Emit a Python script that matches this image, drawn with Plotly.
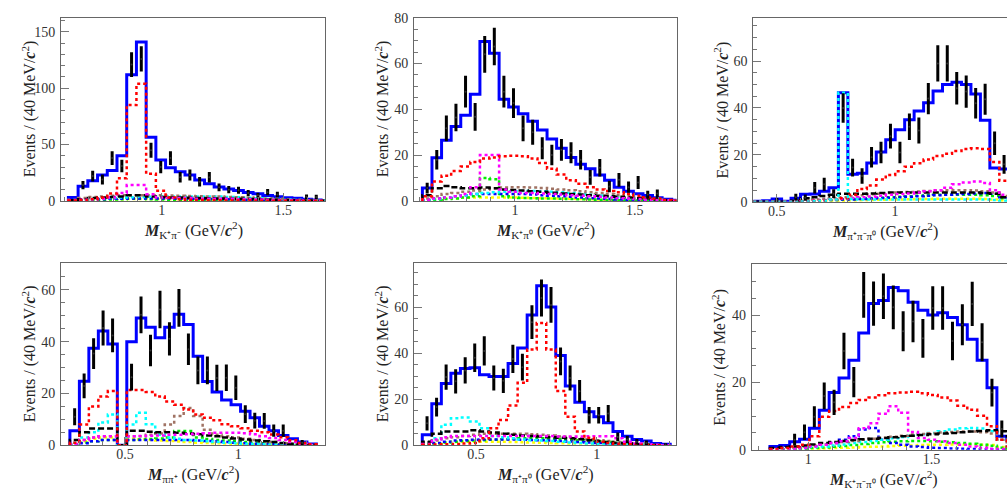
import numpy as np
import plotly.graph_objects as go

W, H = 1007, 492

# ---------------- Panel 1 : M(K+ pi-) ----------------
P1_START, P1_WIDTH = 0.616, 0.040
P1_DATA = [0, 14, 22, 19, 38, 31, 121, 126, 45, 30, 38, 21, 23, 17, 21, 12, 10, 9.5, 7, 5, 7.7, 5.7, 0, 0, 3.7, 3.5, 0.5]
P1_TOTAL = [3, 13, 17.8, 23, 27, 40, 112, 141, 56.5, 36.4, 29.5, 25.8, 23, 18.6, 15.2, 12.3, 10.6, 9.2, 7.5, 6.3, 4.9, 3.7, 2.9, 2.3, 1.5, 0.8, 0.4]
P1_RED = [0.3, 0.8, 1.5, 3, 6.5, 20, 85, 104, 24, 9, 3, 1.5, 1, 0.8, 0.6, 0.5, 0.4, 0.3, 0.3, 0.2, 0.2, 0.1, 0.1, 0.1, 0, 0, 0]
P1_MAGENTA = [0.5, 1, 1.5, 2, 3, 7, 14, 14, 6, 3, 2.5, 2.5, 2.5, 2, 2, 2, 1.8, 1.5, 1.5, 1.2, 1, 0.8, 0.6, 0.4, 0.3, 0.2, 0.1]
P1_BROWN = [1, 2.5, 3.5, 4, 4.5, 5, 5, 5, 5, 5, 4.8, 4.6, 4.4, 4.2, 4, 3.8, 3.5, 3.2, 3, 2.6, 2.2, 1.8, 1.4, 1, 0.7, 0.4, 0.2]
P1_CYAN = [0.5, 1, 1.5, 2, 2.5, 3, 3.2, 3.4, 3.6, 3.8, 4, 4, 4, 4, 4, 3.8, 3.5, 3.2, 2.8, 2.4, 2, 1.6, 1.2, 0.8, 0.5, 0.3, 0.1]
P1_YELLOW = [0.3, 0.6, 1, 1.2, 1.4, 1.5, 1.6, 1.6, 1.6, 1.6, 1.5, 1.5, 1.4, 1.4, 1.3, 1.2, 1.1, 1, 0.9, 0.8, 0.6, 0.5, 0.4, 0.3, 0.2, 0.1, 0]
P1_GREEN = [0.2, 0.5, 0.8, 1, 1.2, 1.5, 2, 2, 1.5, 1.2, 1, 1, 1, 0.9, 0.8, 0.8, 0.7, 0.6, 0.5, 0.4, 0.3, 0.3, 0.2, 0.1, 0.1, 0, 0]
P1_BLACK = [0.5, 1.5, 2.5, 3, 3.5, 4, 5, 5, 4, 3.5, 3, 3, 2.8, 2.6, 2.4, 2.2, 2, 1.8, 1.6, 1.4, 1.2, 1, 0.8, 0.6, 0.4, 0.2, 0.1]
P1_BLUEDASH = [0.3, 0.8, 1.2, 1.5, 1.8, 2, 2.2, 2.2, 2.2, 2.2, 2.1, 2, 1.9, 1.8, 1.7, 1.6, 1.4, 1.2, 1, 0.8, 0.6, 0.5, 0.4, 0.3, 0.2, 0.1, 0]

# ---------------- Panel 2 : M(K+ pi0) ----------------
P2_START, P2_WIDTH = 0.614, 0.040
P2_DATA = [5.6, 18, 31.7, 36.4, 47.7, 36.7, 64, 67.4, 47.7, 42.7, 31.7, 30, 23, 20, 22.3, 21, 18, 10.3, 14.5, 6.3, 9.2, 6, 8, 2.8, 3.2, 0, 0]
P2_TOTAL = [5.6, 18.8, 26.5, 32.5, 37.4, 46.6, 69.6, 64.5, 44.4, 41, 38, 34.8, 31, 27, 23, 19, 16, 14, 11.3, 9, 6, 4.2, 3.1, 2.4, 1.4, 0.7, 0.3]
P2_RED = [2, 8.5, 11, 13, 15, 17, 18.5, 19, 19.5, 19.7, 19.5, 18.5, 16.5, 14, 11.5, 9, 7.5, 6, 5, 4.3, 3.8, 3, 2.3, 1.6, 1, 0.4, 0.1]
P2_MAGENTA = [0.5, 1, 1.5, 2, 3, 6, 20, 20, 5, 4, 3.5, 3.5, 3.2, 3, 2.8, 2.5, 2.2, 2, 1.8, 1.5, 1.2, 1, 0.8, 0.5, 0.3, 0.2, 0.1]
P2_GREEN = [0.2, 0.5, 0.8, 1, 1.5, 2, 10, 9.5, 2, 1.5, 1.3, 1.2, 1, 1, 0.9, 0.8, 0.7, 0.6, 0.5, 0.4, 0.3, 0.2, 0.2, 0.1, 0.1, 0, 0]
P2_BLACK = [2.5, 5.5, 6.5, 6, 5.5, 5.5, 5.8, 5.5, 5, 4.8, 4.5, 4.2, 4, 3.6, 3.2, 3, 2.8, 2.5, 2.2, 2, 1.8, 1.5, 1.2, 1, 0.6, 0.3, 0.1]
P2_BROWN = [1, 2, 3, 3.5, 4, 4.5, 5, 5.5, 5.8, 6, 6, 5.8, 5.6, 5.3, 5, 4.6, 4.2, 3.8, 3.4, 3, 2.5, 2, 1.5, 1, 0.6, 0.3, 0.1]
P2_CYAN = [0.3, 0.8, 1.5, 2, 2.5, 3, 3.5, 3.8, 4, 4.2, 4.3, 4.3, 4.2, 4, 3.8, 3.5, 3.2, 2.8, 2.4, 2, 1.6, 1.2, 0.9, 0.6, 0.4, 0.2, 0.1]
P2_BLUEDASH = [0.5, 1, 1.5, 2, 2.5, 3, 3, 3, 3, 3, 3, 2.8, 2.5, 2.3, 2, 1.8, 1.5, 1.2, 1, 0.8, 0.6, 0.4, 0.3, 0.2, 0.1, 0, 0]
P2_YELLOW = [0.3, 0.6, 1, 1.2, 1.4, 1.5, 1.5, 1.5, 1.5, 1.5, 1.4, 1.3, 1.2, 1.1, 1, 0.9, 0.8, 0.7, 0.6, 0.5, 0.4, 0.3, 0.2, 0.1, 0.1, 0, 0]

# ---------------- Panel 3 : M(pi+ pi- pi0) ----------------
P3_START, P3_WIDTH = 0.4006, 0.040
P3_DATA = [0, 0, 0.8, 0, 2, 1.8, 6, 7.5, 3.5, 40, 14.6, 11, 19, 21, 28, 21, 32, 30.4, 44, 59, 59, 48.4, 47, 42, 43.7, 25, 16, 0]
P3_TOTAL = [0.3, 0.5, 1.2, 0.3, 1.5, 3.2, 3.3, 4.5, 6, 46.5, 11.8, 12.2, 16.6, 21.3, 26.5, 30.7, 35, 38.7, 42.2, 47.2, 50, 51, 50, 46, 34.8, 14.4, 14, 10]
P3_RED = [0, 0, 0, 0, 0, 0.2, 0.4, 0.7, 1, 1.5, 3, 5.5, 7, 9.5, 11.5, 13, 15, 16.5, 18, 19.5, 20.5, 21.7, 22.5, 22.8, 22.5, 17, 9, 5]
P3_CYAN = [0, 0, 0, 0, 0, 0.2, 0.3, 0.5, 1, 46.5, 1.2, 1, 1, 1, 1, 1, 1, 1, 1, 1, 1, 1, 1, 1, 1, 0.8, 0.5, 0.3]
P3_MAGENTA = [0, 0, 0, 0, 0.2, 0.3, 0.5, 0.8, 1, 1.3, 1.6, 2, 2.3, 2.6, 3, 3.3, 3.6, 4, 4.5, 5, 6, 7.5, 8.3, 8.7, 8, 5, 3, 2]
P3_BROWN = [0, 0, 0, 0, 0.2, 0.5, 1, 1.3, 1.6, 2, 2.4, 2.8, 3.2, 3.5, 3.8, 4, 4.2, 4.4, 4.6, 4.8, 5, 5, 5, 4.8, 4.5, 4, 2.5, 1.5]
P3_BLACK = [0, 0, 0, 0, 0.5, 1.5, 2, 2.5, 3, 3.5, 3.5, 3.5, 3.6, 3.8, 4, 4, 4, 4, 4, 4, 4, 4, 4, 4, 3.8, 3.5, 2, 1]
P3_GREEN = [0, 0, 0, 0, 0, 0.2, 0.4, 0.6, 0.8, 1, 1.2, 1.4, 1.6, 1.8, 2, 2.2, 2.4, 2.6, 2.8, 3, 3, 3, 3, 3, 2.8, 2.5, 1.5, 1]
P3_BLUEDASH = [0, 0, 0, 0, 0, 0.2, 0.4, 0.6, 0.8, 1, 1, 1.2, 1.4, 1.6, 1.8, 2, 2.2, 2.4, 2.6, 2.8, 3, 3.2, 3.4, 3.6, 3.8, 3.5, 2, 1]
P3_YELLOW = [0, 0, 0, 0, 0, 0.1, 0.2, 0.3, 0.4, 0.5, 0.6, 0.7, 0.8, 0.9, 1, 1, 1.1, 1.2, 1.2, 1.3, 1.3, 1.3, 1.3, 1.3, 1.2, 1, 0.6, 0.3]

# ---------------- Panel 4 : M(pi pi+) ----------------
P4_START, P4_WIDTH = 0.2573, 0.0418
P4_DATA = [11, 22.9, 35.4, 45.3, 42.4, 0, 26.3, 50.4, 36.6, 52.4, 41.1, 53.1, 37.1, 28.9, 28.9, 26, 26.1, 22.2, 12, 9.5, 9.4, 5.6, 5.6, 0, 1, 0]
P4_TOTAL = [5.6, 24.75, 37.5, 44.1, 39.1, 0, 40, 49.1, 45.6, 41.5, 45.6, 50.6, 46.6, 34.4, 24.6, 20.6, 17.5, 15.6, 13.1, 10.6, 7.3, 5.6, 3.75, 2.5, 1.25, 0.5]
P4_RED = [1, 8, 15, 18.8, 20.9, 0, 21.3, 21.3, 20.6, 18.8, 16.9, 15.6, 13.8, 11.9, 10.6, 9.6, 8.1, 7.3, 6.6, 5.6, 5, 4.1, 3.1, 1.9, 0.9, 0.4]
P4_CYAN = [1, 3, 5, 8.8, 11.9, 0, 8, 12.5, 8.1, 4, 3, 2.5, 2, 1.8, 1.5, 1.2, 1, 0.8, 0.6, 0.5, 0.4, 0.3, 0.2, 0.1, 0.1, 0]
P4_BROWN = [0.5, 2, 3, 3.5, 3.5, 0, 3.5, 3.5, 4, 4.5, 8, 11.3, 14.4, 11.3, 6, 4, 3.5, 3, 2.5, 2, 1.5, 1.2, 0.8, 0.5, 0.3, 0.1]
P4_BLACK = [2, 5, 6.5, 6.5, 6.5, 0, 5.6, 5.6, 5.2, 5, 5, 4.8, 4.5, 4.2, 3.8, 3.5, 3, 2.6, 2.2, 1.8, 1.5, 1.2, 0.9, 0.6, 0.3, 0.1]
P4_MAGENTA = [0.5, 2, 3, 3.5, 3.5, 0, 3.5, 3.6, 3.7, 3.8, 4, 4, 4.2, 4.4, 4.6, 4.8, 4.8, 4.8, 4.6, 4.2, 3.5, 2.8, 2, 1.2, 0.6, 0.2]
P4_GREEN = [0.3, 1, 1.5, 2, 2, 0, 2, 2.2, 2.4, 2.6, 3, 5.5, 5.5, 3, 2.4, 2, 1.8, 1.5, 1.2, 1, 0.8, 0.6, 0.4, 0.2, 0.1, 0]
P4_YELLOW = [0.3, 1.5, 2.5, 3, 3, 0, 2.5, 2.2, 2, 1.8, 1.6, 1.4, 1.2, 1, 0.9, 0.8, 0.7, 0.6, 0.5, 0.4, 0.3, 0.2, 0.1, 0.1, 0, 0]
P4_BLUEDASH = [0.2, 0.8, 1.5, 2, 2, 0, 2, 2, 2, 2, 2, 2, 2, 1.8, 1.6, 1.4, 1.2, 1, 0.8, 0.6, 0.5, 0.4, 0.3, 0.2, 0.1, 0]

# ---------------- Panel 5 : M(pi+ pi0) ----------------
P5_START, P5_WIDTH = 0.2775, 0.0395
P5_DATA = [9.5, 16.6, 29.6, 27.8, 32.5, 38, 41, 29.2, 28, 37.5, 33.9, 53.5, 64, 61, 36.4, 29.2, 23.5, 13, 13, 13.8, 3.6, 2.5, 1.5, 1, 0, 0.3]
P5_TOTAL = [4.6, 18, 26.8, 31.3, 33.4, 33.7, 30.6, 29.9, 29.9, 35.5, 42.3, 56.6, 69.3, 60.1, 39, 25.7, 18.7, 14.5, 12.4, 9.8, 6, 3.9, 2.5, 1.8, 0.8, 0.4]
P5_RED = [0.2, 0.3, 0.4, 0.5, 0.8, 1, 3, 7.4, 11, 17.3, 27.1, 41.6, 53.1, 41.6, 23.6, 12.4, 6, 3.2, 1.5, 1, 0.6, 0.4, 0.2, 0.1, 0, 0]
P5_CYAN = [0.5, 3, 8.9, 11.7, 12, 10.3, 7.4, 4, 3.5, 3, 2.5, 2.2, 2, 1.8, 1.5, 1.2, 1, 0.8, 0.6, 0.4, 0.3, 0.2, 0.1, 0, 0, 0]
P5_BLACK = [1.5, 5, 6, 6, 6, 6.5, 6, 5.5, 5, 4.5, 4.2, 4, 3.8, 3.5, 3.2, 3, 2.6, 2.2, 1.8, 1.4, 1, 0.7, 0.4, 0.2, 0.1, 0]
P5_MAGENTA = [0.5, 2.5, 3.5, 4, 4, 4, 4, 4, 4, 4, 4, 4, 4, 4, 3.8, 3.8, 3.8, 3.9, 3.9, 3.9, 3, 1.5, 0.8, 0.4, 0.2, 0]
P5_BROWN = [0.5, 2, 3, 3.5, 4, 4.5, 5, 5, 5, 5, 5, 4.8, 4.5, 4.2, 3.8, 3.4, 3, 2.6, 2.2, 1.8, 1.4, 1, 0.6, 0.3, 0.1, 0]
P5_GREEN = [0.2, 0.8, 1.2, 1.5, 1.8, 2, 2.2, 2.4, 2.6, 2.8, 3, 3, 3, 2.8, 2.6, 2.4, 2.2, 2, 1.7, 1.4, 1, 0.7, 0.4, 0.2, 0.1, 0]
P5_YELLOW = [0.2, 0.8, 1.2, 1.4, 1.5, 1.5, 1.5, 1.5, 1.5, 1.4, 1.3, 1.2, 1.1, 1, 0.9, 0.8, 0.7, 0.6, 0.5, 0.4, 0.3, 0.2, 0.1, 0, 0, 0]
P5_BLUEDASH = [0.3, 1, 1.5, 2, 2.2, 2.4, 2.5, 2.5, 2.5, 2.5, 2.4, 2.3, 2.2, 2, 1.8, 1.6, 1.4, 1.2, 1, 0.8, 0.6, 0.4, 0.2, 0.1, 0, 0]

# ---------------- Panel 6 : M(K+ pi- pi0) ----------------
P6_START, P6_WIDTH = 0.845, 0.040
P6_DATA = [0, 0, 3, 5.2, 9.8, 16, 14.1, 29.3, 20.1, 46, 43.4, 45.6, 42.3, 35.2, 38.1, 33.1, 42.1, 42.1, 32.3, 37.1, 43.3, 31.9, 17, 6.2, 0]
P6_TOTAL = [1, 1.3, 2.4, 3.1, 6.4, 11.7, 17, 21.3, 26.6, 34.7, 43.4, 44.3, 48.2, 47.2, 43.8, 41.4, 40, 40.7, 39.3, 37.1, 32.8, 26.6, 18.4, 4, 3]
P6_RED = [0.2, 0.5, 1, 1.5, 4, 9.8, 11.5, 12.7, 13.9, 14.8, 15.5, 16.2, 16.8, 17, 17.2, 16.8, 16.3, 15.5, 14.6, 13.1, 11.9, 10.1, 7, 3, 1]
P6_MAGENTA = [0, 0, 0.2, 0.5, 1, 1.5, 2, 2.5, 3.5, 6.4, 7.9, 10.7, 12.9, 11, 5.3, 3.5, 3, 2.5, 2, 1.5, 1, 0.6, 0.3, 0.2, 0.1]
P6_BLUEDASH = [0, 0, 0.2, 0.5, 1, 1.5, 2, 3, 4, 6, 6.5, 3, 2, 1.5, 1, 0.8, 0.6, 0.5, 0.4, 0.3, 0.2, 0.1, 0.1, 0, 0]
P6_CYAN = [0, 0.1, 0.3, 0.5, 0.8, 1, 1.3, 1.6, 2, 2.3, 2.6, 3, 3.4, 3.8, 4.2, 4.6, 5, 5.5, 6, 6.4, 6.5, 6.3, 5.5, 3, 1]
P6_BROWN = [0, 0.2, 0.5, 1, 1.3, 1.6, 2, 2.3, 2.6, 3, 3.3, 3.6, 3.9, 4.2, 4.5, 4.7, 4.9, 5.1, 5.3, 5.4, 5.4, 5.2, 4.8, 3, 1]
P6_BLACK = [0.5, 0.8, 1, 1.3, 1.6, 2, 2.3, 2.6, 2.9, 3.1, 3.3, 3.5, 3.7, 4, 4.2, 4.4, 4.6, 4.8, 5, 5.2, 5.4, 5.6, 5.8, 5.5, 4]
P6_GREEN = [0, 0, 0.1, 0.3, 0.5, 0.7, 0.9, 1.1, 1.4, 1.7, 2, 2.2, 2.4, 2.5, 2.6, 2.6, 2.5, 2.4, 2.2, 2, 1.8, 1.5, 1.2, 0.6, 0.2]
P6_YELLOW = [0, 0, 0.1, 0.2, 0.3, 0.4, 0.5, 0.6, 0.7, 0.8, 0.9, 1, 1.1, 1.2, 1.3, 1.4, 1.5, 1.5, 1.6, 1.6, 1.6, 1.5, 1.4, 0.8, 0.3]

SUBSCRIPTS = ["K⁺π⁻", "K⁺π⁰", "π⁺π⁻π⁰", "ππ⁺", "π⁺π⁰", "K⁺π⁻π⁰"]

# ---------------- styling ----------------
SERIF = "Liberation Serif, Times New Roman, serif"
COMP_STYLE = {
    "yellow": dict(color="#ffff00", dash="dot", width=2.5),
    "green": dict(color="#00ee00", dash="dot", width=2.5),
    "bluedash": dict(color="#0000ff", dash="dot", width=2.5),
    "cyan": dict(color="#00ffff", dash="dot", width=2.5),
    "brown": dict(color="rgb(160,115,100)", dash="dot", width=2.5),
    "black": dict(color="#000000", dash="6px,3px", width=2.5),
    "magenta": dict(color="#ff00ff", dash="dot", width=2.5),
    "red": dict(color="#ff0000", dash="dot", width=2.5),
}

# frame pixels: left, right, top, bottom
panels = [
    dict(frame=(61, 325, 11, 200), xr=[0.5856, 1.672], yr=[0, 162.6], ymaj=50, ymin=10,
         start=P1_START, width=P1_WIDTH, data=P1_DATA, total=P1_TOTAL,
         comps=dict(yellow=P1_YELLOW, green=P1_GREEN, bluedash=P1_BLUEDASH, cyan=P1_CYAN,
                    brown=P1_BROWN, black=P1_BLACK, magenta=P1_MAGENTA, red=P1_RED)),
    dict(frame=(414, 676.5, 11, 200), xr=[0.579, 1.674], yr=[0, 80], ymaj=20, ymin=5,
         start=P2_START, width=P2_WIDTH, data=P2_DATA, total=P2_TOTAL,
         comps=dict(yellow=P2_YELLOW, green=P2_GREEN, bluedash=P2_BLUEDASH, cyan=P2_CYAN,
                    brown=P2_BROWN, black=P2_BLACK, magenta=P2_MAGENTA, red=P2_RED)),
    dict(frame=(753.3, 1007, 11.7, 201), xr=[0.401, 1.473], yr=[0, 78.2], ymaj=20, ymin=5,
         start=P3_START, width=P3_WIDTH, data=P3_DATA, total=P3_TOTAL,
         comps=dict(yellow=P3_YELLOW, green=P3_GREEN, bluedash=P3_BLUEDASH, brown=P3_BROWN,
                    black=P3_BLACK, magenta=P3_MAGENTA, red=P3_RED, cyan=P3_CYAN)),
    dict(frame=(61, 325, 264.3, 452), xr=[0.218, 1.382], yr=[0, 70.3], ymaj=20, ymin=5,
         start=P4_START, width=P4_WIDTH, data=P4_DATA, total=P4_TOTAL,
         comps=dict(yellow=P4_YELLOW, green=P4_GREEN, bluedash=P4_BLUEDASH, cyan=P4_CYAN,
                    brown=P4_BROWN, black=P4_BLACK, magenta=P4_MAGENTA, red=P4_RED)),
    dict(frame=(414, 676, 264.3, 452), xr=[0.2432, 1.3285], yr=[0, 79.1], ymaj=20, ymin=5,
         start=P5_START, width=P5_WIDTH, data=P5_DATA, total=P5_TOTAL,
         comps=dict(yellow=P5_YELLOW, green=P5_GREEN, bluedash=P5_BLUEDASH, cyan=P5_CYAN,
                    brown=P5_BROWN, black=P5_BLACK, magenta=P5_MAGENTA, red=P5_RED)),
    dict(frame=(751.7, 1007, 265.3, 456.7), xr=[0.771, 1.806], yr=[0, 55.1], ymaj=20, ymin=5,
         start=P6_START, width=P6_WIDTH, data=P6_DATA, total=P6_TOTAL,
         comps=dict(yellow=P6_YELLOW, green=P6_GREEN, bluedash=P6_BLUEDASH, cyan=P6_CYAN,
                    brown=P6_BROWN, black=P6_BLACK, magenta=P6_MAGENTA, red=P6_RED)),
]


def fit(arr, n):
    a = list(arr)[:n]
    return np.array(a + [0.0] * (n - len(a)), dtype=float)


def steps(start, width, vals):
    n = len(vals)
    edges = start + width * np.arange(n + 1)
    xs = np.concatenate([[edges[0]], edges[:-1], [edges[-1], edges[-1]]])
    ys = np.concatenate([[0.0], vals, [vals[-1], 0.0]])
    return xs, ys


fig = go.Figure()
layout = dict(
    width=W, height=H, margin=dict(l=0, r=0, t=0, b=0),
    paper_bgcolor="white", plot_bgcolor="white", showlegend=False,
    font=dict(family=SERIF, color="#222", size=14),
)
annotations = []

for i, p in enumerate(panels):
    k = "" if i == 0 else str(i + 1)
    xa, ya = "x" + k, "y" + k
    l, r, t, b = p["frame"]
    n = len(p["total"])

    # total fit first, then components drawn on top of it
    xs, ys = steps(p["start"], p["width"], fit(p["total"], n))
    fig.add_trace(go.Scatter(x=xs, y=ys, mode="lines", line_shape="hv", xaxis=xa, yaxis=ya,
                             line=dict(color="#0000ff", width=3), hoverinfo="skip"))
    for name, vals in p["comps"].items():
        xs, ys = steps(p["start"], p["width"], fit(vals, n))
        st = COMP_STYLE[name]
        fig.add_trace(go.Scatter(x=xs, y=ys, mode="lines", line_shape="hv", xaxis=xa, yaxis=ya,
                                 line=dict(color=st["color"], dash=st["dash"], width=st["width"]),
                                 hoverinfo="skip"))

    d = fit(p["data"], n)
    centers = p["start"] + p["width"] * (np.arange(n) + 0.5)
    mask = (d > 0) & (centers > p["xr"][0]) & (centers < p["xr"][1])
    fig.add_trace(go.Scatter(x=centers[mask], y=d[mask], mode="markers", xaxis=xa, yaxis=ya,
                             marker=dict(color="#333", size=2),
                             error_y=dict(type="data", array=np.sqrt(d[mask]), thickness=3,
                                          width=0, color="#000"),
                             hoverinfo="skip"))

    xdom = [l / W, min(r / W, 1.0)]
    ydom = [1 - b / H, 1 - t / H]
    last_col = (i % 3 == 2)
    layout["xaxis" + k] = dict(
        domain=xdom, range=p["xr"], anchor=ya, showgrid=False, zeroline=False,
        showline=True, mirror=True, linecolor="#666", linewidth=1,
        ticks="inside", ticklen=8, tickcolor="#777", dtick=0.5, tick0=0,
        minor=dict(ticks="inside", ticklen=4, dtick=0.1, tickcolor="#777"),
        tickfont=dict(family=SERIF, size=14, color="#333"), ticklabelstandoff=-4,
    )
    layout["yaxis" + k] = dict(
        domain=ydom, range=p["yr"], anchor=xa, showgrid=False, zeroline=False,
        showline=True, mirror=(not last_col), linecolor="#666", linewidth=1,
        ticks="inside", ticklen=8, tickcolor="#777", dtick=p["ymaj"], tick0=0,
        minor=dict(ticks="inside", ticklen=4, dtick=p["ymin"], tickcolor="#777"),
        tickfont=dict(family=SERIF, size=14, color="#333"), ticklabelstandoff=2,
    )

    # axis titles
    xcenter = (l + (r if not last_col else l + 263)) / 2
    annotations.append(dict(
        xref="paper", yref="paper", x=xcenter / W, y=1 - (b + 30) / H,
        xanchor="center", yanchor="middle", showarrow=False,
        text="<b><i>M</i></b><sub>" + SUBSCRIPTS[i] + "</sub> (GeV/<b><i>c</i></b><sup>2</sup>)",
        font=dict(family=SERIF, size=16, color="#222"),
    ))
    annotations.append(dict(
        xref="paper", yref="paper", x=(l - 32) / W, y=1 - ((t + b) / 2) / H,
        xanchor="center", yanchor="middle", showarrow=False, textangle=-90,
        text="Events / (40 MeV/<b><i>c</i></b><sup>2</sup>)",
        font=dict(family=SERIF, size=16, color="#222"),
    ))

layout["annotations"] = annotations
fig.update_layout(**layout)
fig.write_html("out.html")
